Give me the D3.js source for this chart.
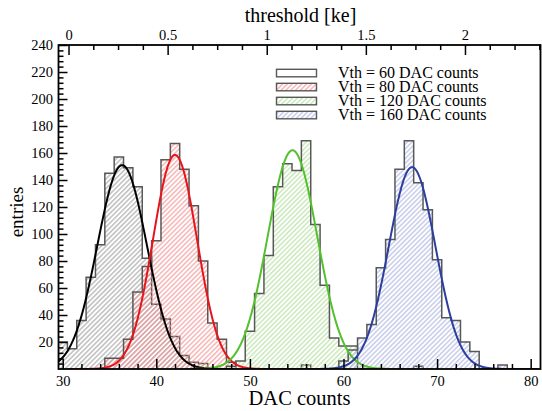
<!DOCTYPE html>
<html>
<head>
<meta charset="utf-8">
<script src="https://cdn.jsdelivr.net/npm/d3@7"></script>
<style>
  body { margin: 0; background: #fff; }
  svg { display: block; }
  text { font-family: "Liberation Serif", "Times New Roman", serif; fill: #000; }
</style>
</head>
<body>
<svg id="chart" width="542" height="411"></svg>
<script>
// ---- data -------------------------------------------------------------
const seriesNames = ["Vth = 60 DAC counts", "Vth = 80 DAC counts", "Vth = 120 DAC counts", "Vth = 160 DAC counts"];

// bin centres (1 DAC wide bins) and entries per bin
const bins60 = [30, 31, 32, 33, 34, 35, 36, 37, 38, 39, 40, 41, 42, 43, 44, 45, 46];
const counts60 = [20, 15, 36, 68, 92, 145, 157, 149, 135, 82, 48, 37, 24, 10, 5, 4, 1];

const bins80 = [35, 36, 37, 38, 39, 40, 41, 42, 43, 44, 45, 46, 47, 48, 49, 50, 51, 52, 53, 54, 55, 56, 57];
const counts80 = [8, 8, 22, 57, 76, 95, 155, 167, 148, 121, 80, 34, 22, 5, 0, 0, 0, 0, 0, 0, 0, 3, 0];

const bins120 = [48, 49, 50, 51, 52, 53, 54, 55, 56, 57, 58, 59, 60, 61, 62, 63, 64, 65, 66, 67, 68, 69];
const counts120 = [2, 6, 28, 56, 84, 135, 152, 147, 169, 107, 62, 23, 17, 17, 0, 0, 0, 0, 0, 0, 2, 0];

const bins160 = [60, 61, 62, 63, 64, 65, 66, 67, 68, 69, 70, 71, 72, 73, 74, 75, 76, 77, 78];
const counts160 = [6, 14, 23, 33, 75, 96, 148, 169, 138, 118, 81, 38, 36, 20, 13, 0, 0, 3, 0];

// gaussian fit parameters and fitted range (DAC counts)
const fitAmplitude = [151, 158.5, 162, 149.5];
const fitMean = [36.35, 42.0, 54.55, 67.33];
const fitSigma = [2.65, 2.35, 2.65, 2.5];
const fitFrom = [29.55, 30.6, 42.9, 54.7];
const fitTo = [48.3, 54.7, 67.2, 80.8];

// axis ticks
const xMajorTicks = [30, 40, 50, 60, 70, 80];
const xMinorTicks = [32, 34, 36, 38, 42, 44, 46, 48, 52, 54, 56, 58, 62, 64, 66, 68, 72, 74, 76, 78];
const yMajorTicks = [20, 40, 60, 80, 100, 120, 140, 160, 180, 200, 220, 240];
const topMajorTicks = [0, 0.5, 1, 1.5, 2];
const topMinorTicks = [0.125, 0.25, 0.375, 0.625, 0.75, 0.875, 1.125, 1.25, 1.375, 1.625, 1.75, 1.875, 2.125, 2.25, 2.375];

// ---- styling ----------------------------------------------------------
const fitColors = ["#000000", "#e8141b", "#52c12c", "#2c3e9e"];
const hatchColors = ["#9e9e9e", "#f29090", "#aedd98", "#aab2de"];
const outlineColor = "#585858";

(function draw() {
  const svg = d3.select("#chart");
  const plotLeft = 58.5, plotRight = 540.5, plotTop = 45, plotBottom = 369;

  const x = d3.scaleLinear().domain([29.55, 81.05]).range([plotLeft, plotRight]);
  const xTop = d3.scaleLinear().domain([-0.0505, 2.381]).range([plotLeft, plotRight]);
  const y = d3.scaleLinear().domain([0, 240]).range([plotBottom, plotTop]);

  const defs = svg.append("defs");
  defs.append("clipPath").attr("id", "plotClip")
    .append("rect").attr("x", plotLeft).attr("y", plotTop)
    .attr("width", plotRight - plotLeft).attr("height", plotBottom - plotTop);

  hatchColors.forEach((c, i) => {
    const p = defs.append("pattern")
      .attr("id", "hatch" + i)
      .attr("patternUnits", "userSpaceOnUse")
      .attr("width", 3.4).attr("height", 10)
      .attr("patternTransform", "rotate(45)");
    p.append("line").attr("x1", 0.8).attr("y1", 0).attr("x2", 0.8).attr("y2", 10)
      .attr("stroke", c).attr("stroke-width", 1);
  });

  const series = [
    { bins: bins60, counts: counts60 },
    { bins: bins80, counts: counts80 },
    { bins: bins120, counts: counts120 },
    { bins: bins160, counts: counts160 }
  ];

  const plot = svg.append("g").attr("clip-path", "url(#plotClip)");

  // histograms: hatched fill plus step outline
  const area = d3.area()
    .x(d => x(d[0])).y0(y(0)).y1(d => y(d[1]))
    .curve(d3.curveStepAfter);
  const stepLine = d3.line()
    .x(d => x(d[0])).y(d => y(d[1]))
    .curve(d3.curveStepAfter);

  series.forEach((s, i) => {
    const pts = s.bins.map((b, k) => [b - 0.5, s.counts[k]]);
    const last = s.bins[s.bins.length - 1];
    pts.push([last + 0.5, s.counts[s.counts.length - 1]]);
    plot.append("path").datum(pts)
      .attr("d", area)
      .attr("fill", `url(#hatch${i})`);
    const outline = [[s.bins[0] - 0.5, 0]].concat(pts, [[last + 0.5, 0]]);
    plot.append("path").datum(outline)
      .attr("d", stepLine)
      .attr("fill", "none")
      .attr("stroke", outlineColor)
      .attr("stroke-width", 1.5);
  });

  // gaussian fits
  const fitLine = d3.line().x(d => x(d[0])).y(d => y(d[1]));
  fitMean.forEach((m, i) => {
    const xs = d3.range(fitFrom[i], fitTo[i], 0.05).concat([fitTo[i]]);
    const pts = xs.map(v => [v, fitAmplitude[i] * Math.exp(-((v - m) ** 2) / (2 * fitSigma[i] ** 2))]);
    plot.append("path").datum(pts)
      .attr("d", fitLine)
      .attr("fill", "none")
      .attr("stroke", fitColors[i])
      .attr("stroke-width", 2);
  });

  // ---- axes -------------------------------------------------------------
  function styleAxis(g) {
    g.select(".domain").remove();
    g.selectAll(".tick line").attr("stroke", "#000").attr("stroke-width", 1.5);
    g.selectAll(".tick text").style("font-size", "14.5px").attr("fill", "#000");
  }

  svg.append("g").attr("transform", `translate(0,${plotBottom})`)
    .call(d3.axisBottom(x).tickValues(xMajorTicks).tickSize(-10).tickPadding(6.5).tickFormat(d3.format("d")))
    .call(styleAxis);
  svg.append("g").attr("transform", `translate(0,${plotBottom})`)
    .call(d3.axisBottom(x).tickValues(xMinorTicks).tickSize(-5).tickFormat(""))
    .call(styleAxis);

  svg.append("g").attr("transform", `translate(0,${plotTop})`)
    .call(d3.axisTop(xTop).tickValues(topMajorTicks).tickSize(-10).tickPadding(5.5).tickFormat(d => String(d)))
    .call(styleAxis);
  svg.append("g").attr("transform", `translate(0,${plotTop})`)
    .call(d3.axisTop(xTop).tickValues(topMinorTicks).tickSize(-5).tickFormat(""))
    .call(styleAxis);

  svg.append("g").attr("transform", `translate(${plotLeft},0)`)
    .call(d3.axisLeft(y).tickValues(yMajorTicks).tickSize(-9).tickPadding(5.5).tickFormat(d3.format("d")))
    .call(styleAxis);
  svg.append("g").attr("transform", `translate(${plotLeft},0)`)
    .call(d3.axisLeft(y).tickValues(d3.range(4, 240, 4).filter(v => v % 20 !== 0)).tickSize(-5).tickFormat(""))
    .call(styleAxis);

  // frame
  svg.append("rect")
    .attr("x", plotLeft).attr("y", plotTop)
    .attr("width", plotRight - plotLeft).attr("height", plotBottom - plotTop)
    .attr("fill", "none").attr("stroke", "#000").attr("stroke-width", 1.8);

  // axis titles
  svg.append("text")
    .attr("x", (plotLeft + plotRight) / 2).attr("y", 405)
    .attr("text-anchor", "middle").style("font-size", "20.5px")
    .text("DAC counts");
  svg.append("text")
    .attr("x", (plotLeft + plotRight) / 2 + 1).attr("y", 22)
    .attr("text-anchor", "middle").style("font-size", "20px")
    .text("threshold [ke]");
  svg.append("text")
    .attr("transform", "translate(23,212) rotate(-90)")
    .attr("text-anchor", "middle").style("font-size", "19px")
    .text("entries");

  // ---- legend -----------------------------------------------------------
  const legend = svg.append("g");
  seriesNames.forEach((name, i) => {
    const rowY = 69.3 + i * 14;
    legend.append("rect")
      .attr("x", 276.5).attr("y", rowY)
      .attr("width", 40).attr("height", 7.5)
      .attr("fill", i === 0 ? "#fff" : `url(#hatch${i})`)
      .attr("stroke", outlineColor).attr("stroke-width", 1.4);
    legend.append("text")
      .attr("x", 338).attr("y", rowY + 9)
      .style("font-size", "16px")
      .text(name);
  });
})();
</script>
</body>
</html>
